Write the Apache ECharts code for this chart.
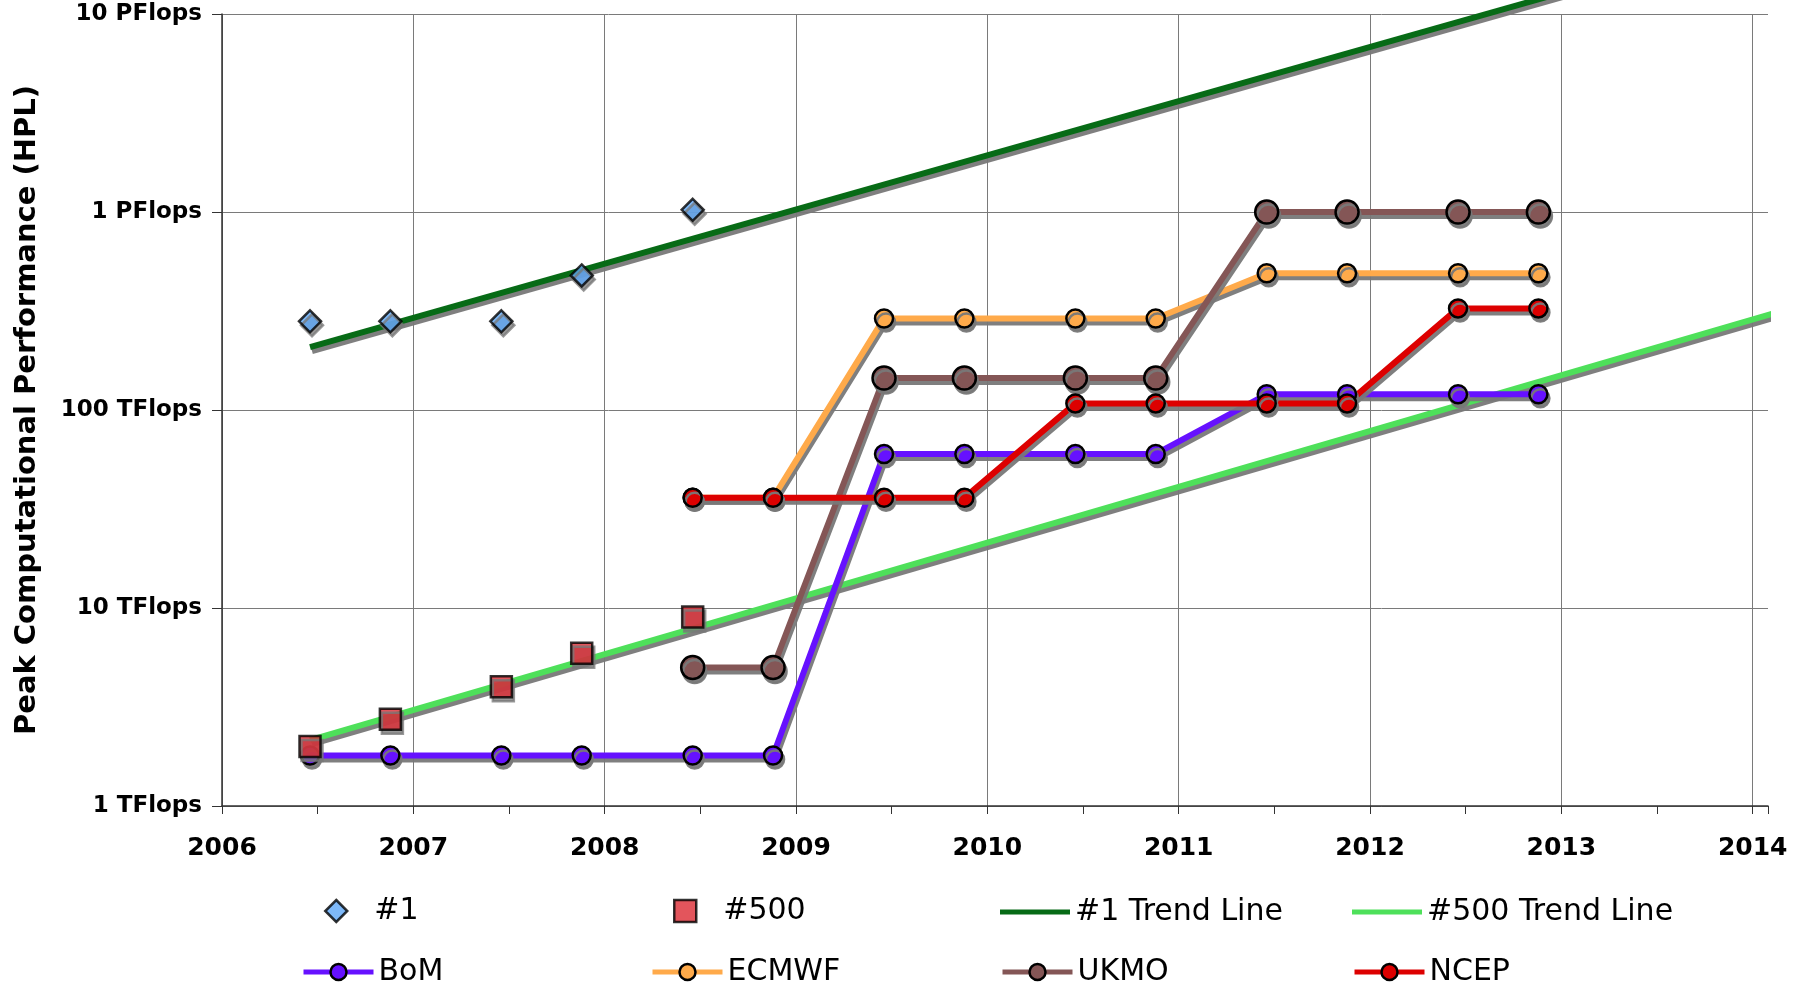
<!DOCTYPE html>
<html>
<head>
<meta charset="utf-8">
<script src="https://cdn.jsdelivr.net/npm/echarts@6/dist/echarts.min.js"></script>
<style>
html,body{margin:0;padding:0;background:#fff;}
#chart{width:1813px;height:985px;}
</style>
</head>
<body>
<div id="chart"></div>
<script>
// ---- data (TFlops, x = fractional year of TOP500 list) ----
const listDates = [2006.46, 2006.88, 2007.46, 2007.88, 2008.46, 2008.88, 2009.46, 2009.88, 2010.46, 2010.88, 2011.46, 2011.88, 2012.46, 2012.88];
const top1Dates = [2006.46, 2006.88, 2007.46, 2007.88, 2008.46];
const top1Values = [280.6, 280.6, 280.6, 478.2, 1026];
const top500Values = [2.0, 2.74, 4.0, 5.9, 9.0];
const trendDates = [2006.46, 2014.15];
const top1TrendValues = [208, 26400];
const top500TrendValues = [2.15, 316];
const bomValues = [1.8, 1.8, 1.8, 1.8, 1.8, 1.8, 60, 60, 60, 60, 120, 120, 120, 120];
const centreDates = [2008.46, 2008.88, 2009.46, 2009.88, 2010.46, 2010.88, 2011.46, 2011.88, 2012.46, 2012.88];
const ecmwfValues = [36, 36, 290, 290, 290, 290, 490, 490, 490, 490];
const ukmoValues = [5, 5, 145, 145, 145, 145, 1000, 1000, 1000, 1000];
const ncepValues = [36, 36, 36, 36, 108, 108, 108, 108, 326, 326];
const yTickValues = [1, 10, 100, 1000, 10000];
const yTickLabels = ['1 TFlops', '10 TFlops', '100 TFlops', '1 PFlops', '10 PFlops'];
const xTickLabels = ['2006', '2007', '2008', '2009', '2010', '2011', '2012', '2013', '2014'];

const zip = (xs, ys) => xs.map((x, i) => [x, ys[i]]);

const shadow = { shadowColor: 'rgba(120,120,120,0.95)', shadowBlur: 0, shadowOffsetX: 2, shadowOffsetY: 4 };

function lineSeries(name, dates, values, color, symbolSize, z) {
  return {
    name: name, type: 'line', data: zip(dates, values),
    symbol: 'circle', symbolSize: symbolSize, z: z,
    lineStyle: Object.assign({ color: color, width: 6 }, shadow),
    itemStyle: Object.assign({ color: color, borderColor: '#000', borderWidth: 2.5 }, shadow),
    emphasis: { disabled: true }, animation: false
  };
}

const font = 'DejaVu Sans';
const legendText = { fontSize: 30, fontFamily: font, color: '#000' };
const noShadow = { shadowColor: 'rgba(0,0,0,0)', shadowOffsetX: 0, shadowOffsetY: 0 };
function markerLegend(name, left, top) {
  return { data: [name], left: left, top: top, itemWidth: 22, itemHeight: 22, itemGap: 0,
    textStyle: Object.assign({ padding: [0, 0, 0, 22] }, legendText),
    itemStyle: Object.assign({ borderWidth: 2.5 }, noShadow) };
}
function trendLegend(name, left, top) {
  return { data: [{ name: name, icon: 'rect' }], left: left, top: top, itemWidth: 70, itemHeight: 5, itemGap: 0,
    textStyle: legendText, itemStyle: noShadow };
}
function lineLegend(name, left, top) {
  return { data: [name], left: left, top: top, itemWidth: 70, itemHeight: 20, itemGap: 0,
    textStyle: legendText,
    itemStyle: Object.assign({ borderWidth: 2.5 }, noShadow),
    lineStyle: Object.assign({ width: 5 }, noShadow) };
}
const row1 = 892, row2 = 952;

const option = {
  backgroundColor: '#fff',
  animation: false,
  grid: { left: 222, right: 45, top: 14, bottom: 179 },
  legend: [
    markerLegend('#1', 319, row1 - 1), markerLegend('#500', 668, row1 - 1),
    trendLegend('#1 Trend Line', 995, row1), trendLegend('#500 Trend Line', 1347, row1),
    lineLegend('BoM', 296, row2), lineLegend('ECMWF', 645, row2),
    lineLegend('UKMO', 995, row2), lineLegend('NCEP', 1347, row2)
  ],
  xAxis: {
    type: 'value', min: 2006, max: 2014.08, interval: 1,
    axisLine: { show: true, lineStyle: { color: '#333', width: 1.5 } },
    axisTick: { show: true, length: 8, lineStyle: { color: '#333' } },
    minorTick: { show: true, splitNumber: 2, length: 8, lineStyle: { color: '#333' } },
    splitLine: { show: true, showMaxLine: false, lineStyle: { color: '#7a7a7a', width: 1 } },
    axisLabel: {
      margin: 30, fontSize: 25, fontWeight: 'bold', fontFamily: font, color: '#000', showMaxLabel: false,
      formatter: v => { const i = xTickLabels.indexOf(String(Math.round(v))); return Math.abs(v - Math.round(v)) < 1e-6 && i >= 0 ? xTickLabels[i] : ''; }
    }
  },
  yAxis: {
    type: 'log', logBase: 10, min: 1, max: 10000,
    name: 'Peak Computational Performance (HPL)', nameLocation: 'middle', nameRotate: 90, nameGap: 180,
    nameTextStyle: { fontSize: 29, fontWeight: 'bold', fontFamily: font, color: '#000' },
    axisLine: { show: true, lineStyle: { color: '#333', width: 1.5 } },
    axisTick: { show: true, length: 10, lineStyle: { color: '#333' } },
    splitLine: { show: true, lineStyle: { color: '#7a7a7a', width: 1 } },
    axisLabel: {
      margin: 20, fontSize: 23, fontWeight: 'bold', fontFamily: font, color: '#000',
      formatter: v => { const i = yTickValues.findIndex(t => Math.abs(t - v) / t < 1e-6); return i >= 0 ? yTickLabels[i] : ''; }
    }
  },
  series: [
    {
      name: '#1 Trend Line', type: 'line', data: zip(trendDates, top1TrendValues), symbol: 'none', clip: false, z: 2,
      lineStyle: Object.assign({ color: '#076b16', width: 6 }, shadow), itemStyle: { color: '#076b16' }, emphasis: { disabled: true }
    },
    {
      name: '#500 Trend Line', type: 'line', data: zip(trendDates, top500TrendValues), symbol: 'none', clip: false, z: 2,
      lineStyle: Object.assign({ color: '#4ee05a', width: 6 }, shadow), itemStyle: { color: '#4ee05a' }, emphasis: { disabled: true }
    },
    {
      name: '#1', type: 'scatter', data: zip(top1Dates, top1Values), symbol: 'diamond', symbolSize: 22, z: 4,
      itemStyle: Object.assign({ color: '#5ea8f8', borderColor: '#000', borderWidth: 2.5 }, shadow), emphasis: { disabled: true }
    },
    {
      name: '#500', type: 'scatter', data: zip(top1Dates, top500Values), symbol: 'rect', symbolSize: 21, z: 4,
      itemStyle: Object.assign({ color: '#dc2a33', borderColor: '#000', borderWidth: 2.5 }, shadow), emphasis: { disabled: true }
    },
    lineSeries('BoM', listDates, bomValues, '#6611ff', 18, 3),
    lineSeries('ECMWF', centreDates, ecmwfValues, '#ffaa4a', 18, 3),
    lineSeries('UKMO', centreDates, ukmoValues, '#845656', 23, 3),
    lineSeries('NCEP', centreDates, ncepValues, '#dd0000', 18, 3)
  ]
};

const chart = echarts.init(document.getElementById('chart'), null, { renderer: 'canvas' });
chart.setOption(option);
</script>
</body>
</html>
